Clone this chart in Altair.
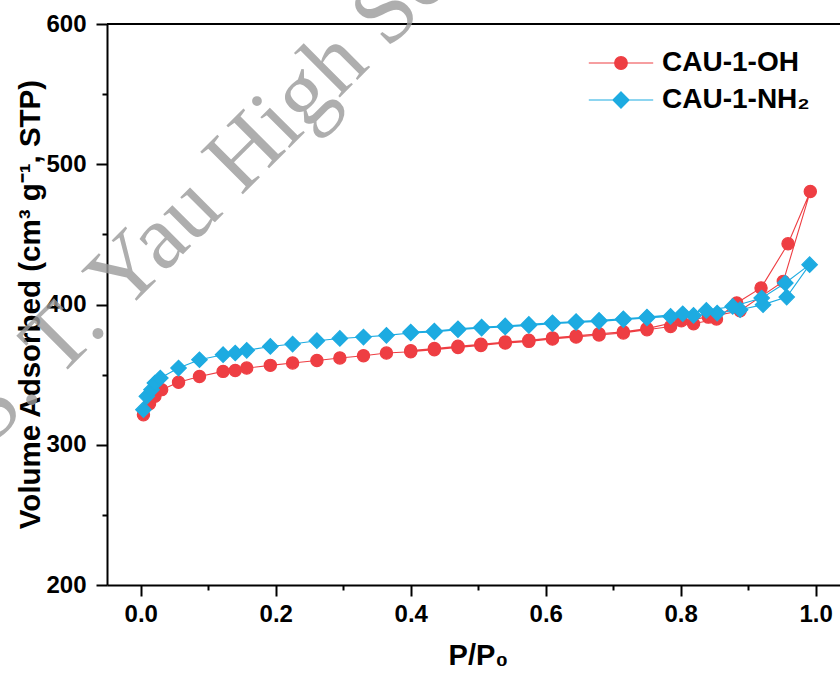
import altair as alt
import pandas as pd

RED = "#EE3E43"
BLUE = "#1DABE1"
FONT = "Liberation Sans"

# CAU-1-OH adsorption branch
oh_ads_p = [0.004, 0.013, 0.021, 0.031, 0.056, 0.087, 0.122, 0.140, 0.157, 0.192, 0.225,
            0.261, 0.295, 0.330, 0.364, 0.400, 0.435, 0.470, 0.504, 0.540, 0.575, 0.610,
            0.645, 0.679, 0.715, 0.750, 0.785, 0.819, 0.853, 0.883, 0.919, 0.959, 0.992]
oh_ads_v = [321.4, 329.3, 334.5, 339.3, 344.5, 348.7, 352.3, 353.0, 354.7, 356.6, 358.3,
            360.1, 361.9, 363.5, 365.4, 366.3, 367.8, 369.4, 370.8, 372.5, 373.7, 375.4,
            376.8, 378.3, 379.7, 382.0, 384.3, 386.3, 389.7, 401.1, 411.8, 443.3, 480.6]
# CAU-1-OH desorption branch
oh_des_p = [0.952, 0.888, 0.841, 0.801, 0.750, 0.715, 0.679, 0.645, 0.610, 0.575, 0.540,
            0.504, 0.470, 0.435, 0.400]
oh_des_v = [416.5, 395.6, 391.0, 388.4, 382.8, 380.5, 379.1, 377.6, 376.2, 374.5, 373.3,
            371.6, 370.2, 368.6, 367.1]

# CAU-1-NH2 adsorption branch
nh_ads_p = [0.004, 0.009, 0.016, 0.021, 0.029, 0.056, 0.087, 0.122, 0.140, 0.157, 0.192,
            0.225, 0.261, 0.295, 0.330, 0.364, 0.400, 0.435, 0.470, 0.505, 0.540, 0.575,
            0.610, 0.645, 0.679, 0.715, 0.750, 0.785, 0.819, 0.854, 0.888, 0.922, 0.957, 0.991]
nh_ads_v = [325.0, 334.5, 339.3, 344.0, 347.6, 354.7, 360.6, 364.2, 365.4, 367.3, 370.1,
            371.8, 374.2, 375.8, 376.8, 378.0, 379.7, 380.4, 382.0, 383.2, 384.0, 385.1,
            386.3, 387.2, 388.0, 389.2, 390.4, 391.5, 392.2, 393.9, 396.3, 399.9, 405.3, 428.4]
# CAU-1-NH2 desorption branch
nh_des_p = [0.955, 0.920, 0.877, 0.838, 0.803, 0.750, 0.715, 0.679, 0.645, 0.610, 0.575,
            0.540, 0.505, 0.470, 0.435, 0.400]
nh_des_v = [415.3, 404.6, 398.6, 395.8, 393.4, 391.0, 389.8, 388.7, 387.9, 387.0, 385.8,
            384.7, 383.9, 382.7, 381.1, 380.4]

series_names = ["CAU-1-OH", "CAU-1-NH₂"]
x_tick_values = [0.0, 0.1, 0.2, 0.3, 0.4, 0.5, 0.6, 0.7, 0.8, 0.9, 1.0]
y_tick_values = [200, 250, 300, 350, 400, 450, 500, 550, 600]
watermark_text = ["S. T. Yau High School"]


def frame(name, ads_p, ads_v, des_p, des_v):
    ps = ads_p + des_p
    vs = ads_v + des_v
    return pd.DataFrame({"series": [name] * len(ps), "p": ps, "v": vs,
                         "order": list(range(len(ps)))})


df_oh = frame(series_names[0], oh_ads_p, oh_ads_v, oh_des_p, oh_des_v)
df_nh = frame(series_names[1], nh_ads_p, nh_ads_v, nh_des_p, nh_des_v)

x_axis = alt.Axis(
    values=x_tick_values, format=".1f",
    labelExpr="round(datum.value*10) % 2 == 0 ? datum.label : ''",
    tickSize={"condition": {"test": "round(datum.value*10) % 2 == 0", "value": 11}, "value": 5},
    tickWidth=2, tickColor="black", domainWidth=2, domainColor="black",
    labelFont=FONT, labelFontWeight="bold", labelFontSize=24, labelColor="black",
    labelPadding=6, labelFlush=False, labelOverlap=False, grid=False,
    title="P/P₀", titleFont=FONT, titleFontWeight="bold", titleFontSize=29,
    titleColor="black", titleBaseline="middle", titleX=371, titleY=70,
)
y_axis = alt.Axis(
    values=y_tick_values,
    labelExpr="datum.value % 100 == 0 ? datum.label : ''",
    tickSize={"condition": {"test": "datum.value % 100 == 0", "value": 11}, "value": 5},
    tickWidth=2, tickColor="black", domainWidth=2, domainColor="black",
    labelFont=FONT, labelFontWeight="bold", labelFontSize=24, labelColor="black",
    labelPadding=10, labelFlush=False, labelOverlap=False, grid=False,
    title="Volume Adsorbed (cm³ g⁻¹, STP)", titleFont=FONT, titleFontWeight="bold",
    titleFontSize=29.5, titleColor="black", titleBaseline="middle", titleAngle=270,
    titleX=-77, titleY=280,
)

xs = alt.Scale(domain=[-0.05, 1.036], nice=False, zero=False)
ys = alt.Scale(domain=[200, 600], nice=False, zero=False)

CIRCLE_PATH = "M-4.6,0L4.6,0M0.9,0A0.9,0.9,0,1,1,-0.9,0A0.9,0.9,0,1,1,0.9,0Z"
DIAMOND_PATH = "M-4.6,0L4.6,0M0,-1.15L1.15,0L0,1.15L-1.15,0Z"


def legend(path, ly):
    return alt.Legend(
        title=None, orient="none", legendX=500, legendY=ly, padding=0,
        symbolType=path, symbolSize=196, symbolStrokeWidth=1.2, symbolOpacity=1,
        labelFont=FONT, labelFontWeight="bold", labelFontSize=28, labelColor="black",
        labelOffset=27, labelBaseline="middle",
    )


def layers(df, color, shape, size, path, ly, name):
    line = alt.Chart(df).mark_line(color=color, strokeWidth=1.1).encode(
        x=alt.X("p:Q", scale=xs, axis=x_axis),
        y=alt.Y("v:Q", scale=ys, axis=y_axis),
        order=alt.Order("order:Q"),
    )
    cscale = alt.Scale(domain=[name], range=[color])
    lg = legend(path, ly)
    pts = alt.Chart(df).mark_point(filled=True, shape=shape, size=size, opacity=1,
                                   strokeWidth=1.2).encode(
        x=alt.X("p:Q", scale=xs, axis=x_axis),
        y=alt.Y("v:Q", scale=ys, axis=y_axis),
        fill=alt.Fill("series:N", scale=cscale, legend=lg),
        stroke=alt.Stroke("series:N", scale=cscale, legend=lg),
    )
    return line, pts


oh_line, oh_pts = layers(df_oh, RED, "circle", 150, CIRCLE_PATH, 25, series_names[0])
nh_line, nh_pts = layers(df_nh, BLUE, "diamond", 240, DIAMOND_PATH, 62, series_names[1])

top_border = alt.Chart(pd.DataFrame({"k": [0]})).mark_rule(color="black", strokeWidth=2).encode(
    x=alt.datum(-0.05, scale=xs), x2=alt.datum(1.036), y=alt.datum(600, scale=ys)
)

watermark = alt.Chart(pd.DataFrame({"t": watermark_text})).mark_text(
    font="Liberation Serif", fontSize=92, color="#9A9A9A", opacity=0.8,
    angle=315, align="left", baseline="alphabetic", clip=False,
).encode(x=alt.datum(-0.223), y=alt.datum(298.4), text="t:N")

chart = alt.layer(
    top_border, oh_line, oh_pts, nh_line, nh_pts, watermark
).resolve_scale(
    fill="independent", stroke="independent"
).resolve_legend(
    fill="independent", stroke="independent"
).properties(
    width=733, height=561,
    autosize=alt.AutoSizeParams(type="none"),
    padding={"left": 107, "top": 24, "right": 0, "bottom": 92},
    background="white",
).configure_view(strokeWidth=0)

chart.save("out.html", embed_options={"renderer": "svg", "actions": False})
